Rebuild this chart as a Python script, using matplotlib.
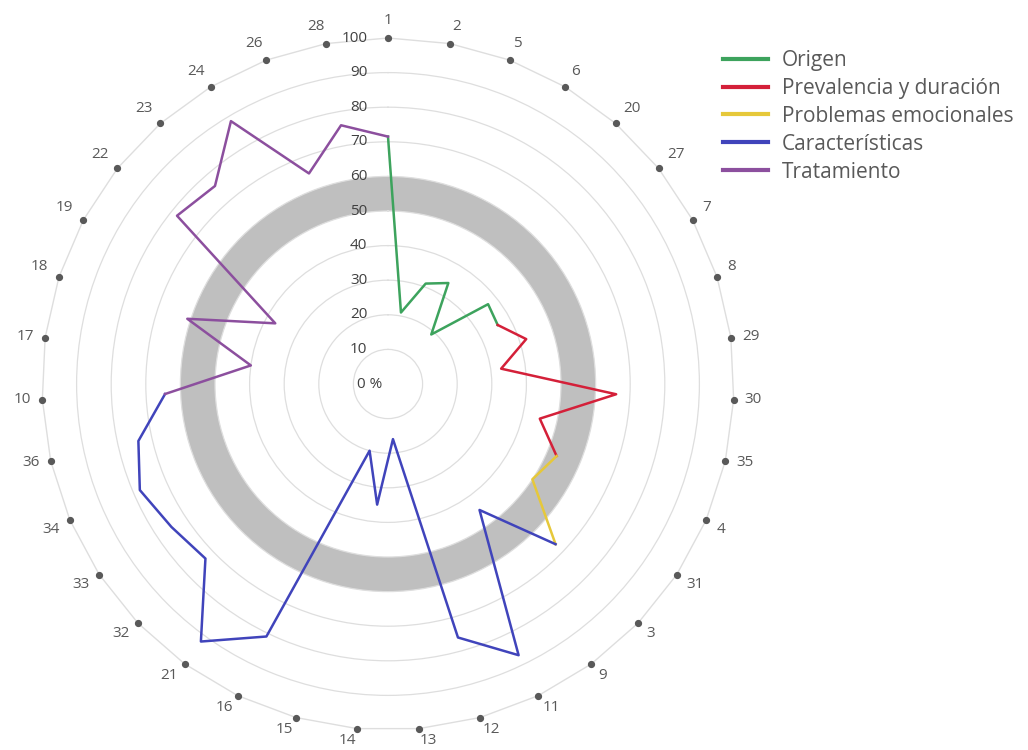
import numpy as np
import matplotlib
matplotlib.use("Agg")
import matplotlib.pyplot as plt
from matplotlib.lines import Line2D

plt.rcParams["font.family"] = ["Open Sans", "DejaVu Sans"]

# --------------------------------------------------
# Datos
# --------------------------------------------------

categories = ["1", "2", "5", "6", "20", "27", "7", "8", "29", "30", "35", "4",
              "31", "3", "9", "11", "12", "13", "14", "15", "16", "21", "32",
              "33", "34", "36", "10", "17", "18", "19", "22", "23", "24", "26",
              "28"]

values = [71.5, 21, 31, 34, 19, 37, 36, 42, 33, 66, 45, 53,
          50, 67, 45, 87, 76, 16, 35, 20, 81, 92, 73,
          75, 78, 74, 64.5, 40, 61, 37, 78, 76, 88.5, 65,
          76]

series_names = ["Origen", "Prevalencia y duración", "Problemas emocionales",
                "Características", "Tratamiento"]
# first category of each group; each group runs up to the next group's first one
series_start = ["1", "7", "4", "3", "10"]

series_colors = ["#3DA35D", "#D42039", "#E6C83A", "#4044BB", "#8C4F9E"]

radial_ticks = [10, 20, 30, 40, 50, 60, 70, 80, 90, 100]
band_low, band_high = 50, 60

# --------------------------------------------------
# Figura
# --------------------------------------------------

fig = plt.figure(figsize=(10.28, 7.5), dpi=100)
ax = fig.add_axes([42 / 1028, 20 / 750, 692 / 1028, 692 / 750], projection="polar")

ax.set_theta_zero_location("N")
ax.set_theta_direction(-1)
ax.set_ylim(0, 100)

n = len(categories)
theta = np.arange(n) * 2 * np.pi / n

ax.set_yticks(radial_ticks[:-1])
ax.set_yticklabels([])
ax.set_xticks([])
ax.yaxis.grid(True, color="#DEDEDE", linewidth=0.9)
ax.xaxis.grid(False)
ax.spines["polar"].set_visible(False)

# outer axis polygon through the category points
ax.plot(np.append(theta, 2 * np.pi), [100] * (n + 1), color="#DEDEDE",
        linewidth=1.0, clip_on=False, zorder=1)

# gray band
ax.bar(0, band_high - band_low, width=2 * np.pi, bottom=band_low,
       color="#BFBFBF", linewidth=0, zorder=1)

# series lines
starts = [categories.index(s) for s in series_start]
for k, name in enumerate(series_names):
    a = starts[k]
    b = starts[k + 1] if k + 1 < len(starts) else n
    idx = list(range(a, b + 1))
    th = [theta[i] if i < n else 2 * np.pi for i in idx]
    rv = [values[i % n] for i in idx]
    ax.plot(th, rv, color=series_colors[k], linewidth=1.8, zorder=3)

# category markers and labels
ax.plot(theta, [100] * n, "o", color="#595959", markersize=4.2, clip_on=False, zorder=4)
for t, lab in zip(theta, categories):
    s, c = np.sin(t), np.cos(t)
    ha = "left" if s > 0.05 else ("right" if s < -0.05 else "center")
    va = "bottom" if c > 0.3 else ("top" if c < -0.3 else "center")
    dy = 7 * c if c > 0 else 3.5 * c
    ax.annotate(lab, xy=(t, 100), xytext=(8 * s, dy), textcoords="offset points",
                ha=ha, va=va, fontsize=11, color="#595959", annotation_clip=False)

# radial labels
for r in radial_ticks:
    ax.annotate(str(r), xy=(0, r), xytext=(-15, 0), textcoords="offset points",
                ha="right", va="center", fontsize=11, color="#404040")
ax.annotate("0 %", xy=(0, 0), xytext=(-22, 0), textcoords="offset points",
            ha="left", va="center", fontsize=11, color="#404040")

# legend
handles = [Line2D([0], [0], color=c, linewidth=3) for c in series_colors]
fig.legend(handles, series_names, loc="upper left",
           bbox_to_anchor=(723 / 1028, 1 - 50 / 750), frameon=False,
           borderpad=0, borderaxespad=0,
           fontsize=15, handlelength=2.15, handletextpad=0.68,
           labelspacing=0.33, labelcolor="#595959")

fig.savefig("out.png", dpi=100)
